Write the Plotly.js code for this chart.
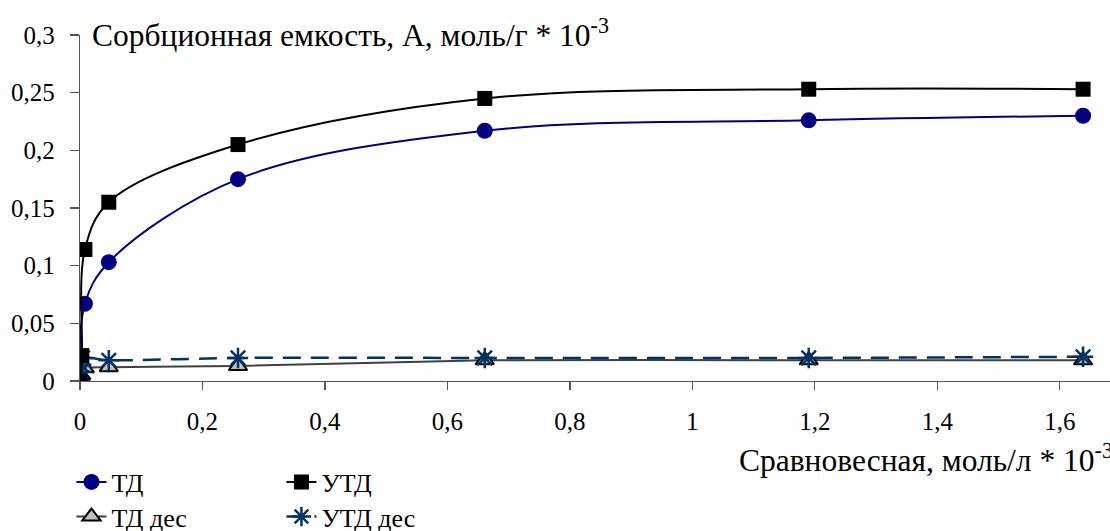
<!DOCTYPE html>
<html>
<head>
<meta charset="utf-8">
<script src="https://cdn.plot.ly/plotly-3.0.1.min.js"></script>
<style>
html,body{margin:0;padding:0;background:#fff;}
#chart{width:1110px;height:531px;}
</style>
</head>
<body>
<div id="chart"></div>
<script>
// ---- data ----
var tdX   = [0, 0.008, 0.047, 0.258, 0.661, 1.19, 1.638];
var tdY   = [0, 0.067, 0.103, 0.175, 0.217, 0.226, 0.230];
var utdX  = [0, 0.003, 0.008, 0.047, 0.258, 0.661, 1.19, 1.638];
var utdY  = [0, 0.022, 0.114, 0.155, 0.205, 0.245, 0.253, 0.253];
var tdDesX  = [0, 0.002, 0.008, 0.047, 0.258, 0.661, 1.19, 1.638];
var tdDesY  = [0, 0.005, 0.011, 0.012, 0.013, 0.018, 0.018, 0.018];
var utdDesX = [0, 0.001, 0.002, 0.004, 0.047, 0.258, 0.661, 1.19, 1.638];
var utdDesY = [0, 0.008, 0.014, 0.020, 0.018, 0.020, 0.020, 0.020, 0.021];

var seriesNames = ['ТД', 'УТД', 'ТД дес', 'УТД дес'];
var yTickVals = [0, 0.05, 0.1, 0.15, 0.2, 0.25, 0.3];
var yTickText = ['0', '0,05', '0,1', '0,15', '0,2', '0,25', '0,3'];
var xTickVals = [0, 0.2, 0.4, 0.6, 0.8, 1, 1.2, 1.4, 1.6];
var xTickText = ['0', '0,2', '0,4', '0,6', '0,8', '1', '1,2', '1,4', '1,6'];
var yTitle = 'Сорбционная емкость, А, моль/г * 10<sup>-3</sup>';
var xTitle = 'Сравновесная, моль/л * 10<sup>-3</sup>';

var FONT = 'Liberation Serif';

var traces = [
  {x: tdDesX, y: tdDesY, name: seriesNames[2], mode: 'lines+markers', legend: 'legend2',
   line: {color: '#404040', width: 2, shape: 'spline', smoothing: 0.6},
   marker: {symbol: 'triangle-up', size: 16, color: '#c0c0c0', line: {color: '#000', width: 2}}},
  {x: utdDesX, y: utdDesY, name: seriesNames[3], mode: 'lines+markers', legend: 'legend2',
   line: {color: '#003366', width: 2.5, dash: '18px,10px', shape: 'spline', smoothing: 0.6},
   marker: {symbol: 'asterisk-open', size: 17, color: '#003366', line: {color: '#003366', width: 2.5}}},
  {x: tdX, y: tdY, name: seriesNames[0], mode: 'lines+markers', legend: 'legend',
   line: {color: '#000080', width: 2, shape: 'spline', smoothing: 1},
   marker: {symbol: 'circle', size: 16, color: '#000080'}},
  {x: utdX, y: utdY, name: seriesNames[1], mode: 'lines+markers', legend: 'legend',
   line: {color: '#000000', width: 2, shape: 'spline', smoothing: 1},
   marker: {symbol: 'square', size: 15, color: '#000000'}}
];

var layout = {
  width: 1110, height: 531,
  margin: {l: 80, r: 0, t: 35, b: 150, pad: 0, autoexpand: false},
  paper_bgcolor: '#fff', plot_bgcolor: '#fff',
  font: {family: FONT, size: 25, color: '#000'},
  showlegend: true,
  xaxis: {
    range: [0, 1.682], showgrid: false, zeroline: false, automargin: false,
    showline: true, linecolor: '#555', linewidth: 1.3,
    ticks: 'outside', ticklen: 8, tickcolor: '#555', tickwidth: 1.3,
    tickvals: xTickVals, ticktext: xTickText, ticklabelstandoff: 10,
    tickfont: {family: FONT, size: 25, color: '#000'}
  },
  yaxis: {
    range: [0, 0.3], showgrid: false, zeroline: false, automargin: false,
    showline: true, linecolor: '#555', linewidth: 1.3,
    ticks: 'outside', ticklen: 9, tickcolor: '#555', tickwidth: 1.3,
    tickvals: yTickVals, ticktext: yTickText, ticklabelstandoff: 10,
    tickfont: {family: FONT, size: 25, color: '#000'}
  },
  legend: {
    orientation: 'h', x: -0.0083, xanchor: 'left', y: -0.292, yanchor: 'middle',
    entrywidth: 165, entrywidthmode: 'pixels', traceorder: 'normal',
    font: {family: FONT, size: 26, color: '#000'}, bgcolor: 'rgba(0,0,0,0)'
  },
  legend2: {
    orientation: 'h', x: -0.0083, xanchor: 'left', y: -0.392, yanchor: 'middle',
    entrywidth: 165, entrywidthmode: 'pixels', traceorder: 'normal',
    font: {family: FONT, size: 26, color: '#000'}, bgcolor: 'rgba(0,0,0,0)'
  },
  annotations: [
    {text: yTitle, xref: 'paper', yref: 'paper', x: 0.0097, y: 1.006,
     xanchor: 'left', yanchor: 'middle', showarrow: false,
     font: {family: FONT, size: 31.5, color: '#000'}},
    {text: xTitle, xref: 'paper', yref: 'paper', x: 0.638, y: -0.2225,
     xanchor: 'left', yanchor: 'middle', showarrow: false,
     font: {family: FONT, size: 31.5, color: '#000'}}
  ]
};

Plotly.newPlot('chart', traces, layout, {displayModeBar: false, staticPlot: true});
</script>
</body>
</html>
